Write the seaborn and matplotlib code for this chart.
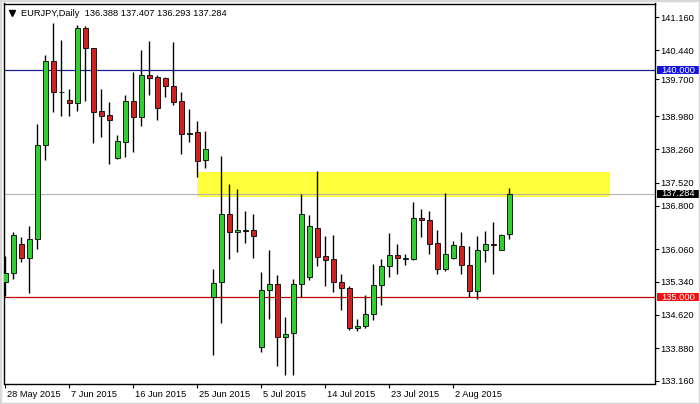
import matplotlib
matplotlib.use("Agg")
import matplotlib.pyplot as plt
import pandas as pd
import seaborn as sns
from matplotlib.patches import Rectangle
from matplotlib.transforms import ScaledTranslation

# --- datos (EURJPY diario) ---
SYMBOL = "EURJPY,Daily"

opens = [135.336, 135.543, 136.182, 135.874, 136.292, 138.341, 140.204, 139.508,
         139.338, 139.266, 140.931, 140.477, 139.096, 139.001, 138.076, 138.420,
         139.316, 138.971, 139.889, 139.838, 139.816, 139.647, 139.316, 138.583,
         138.627, 138.017, 135.006, 135.336, 136.843, 136.446, 136.475, 136.475,
         133.905, 135.169, 135.301, 134.125, 134.213, 135.301, 135.446, 136.535,
         135.902, 135.836, 135.345, 135.213, 134.323, 134.376, 134.640, 135.270,
         135.682, 135.940, 135.852, 135.852, 136.755, 136.711, 136.204, 135.631,
         135.874, 136.138, 135.720, 135.147, 136.050, 136.170, 136.050, 136.388]
highs = [135.902, 136.438, 136.327, 136.563, 138.810, 140.330, 141.041, 140.660,
         139.581, 140.990, 140.968, 140.480, 139.581, 139.301, 138.568, 139.449,
         139.962, 140.440, 140.638, 139.889, 139.838, 140.623, 139.521, 139.134,
         138.876, 138.656, 135.631, 138.105, 137.504, 137.394, 136.894, 136.827,
         135.557, 136.035, 135.484, 134.565, 135.411, 137.268, 136.805, 137.781,
         136.343, 136.365, 135.521, 135.242, 134.530, 135.043, 135.742, 135.836,
         136.416, 136.182, 135.962, 137.098, 136.953, 136.894, 136.475, 137.305,
         136.239, 136.438, 136.129, 136.343, 136.460, 136.658, 136.402, 137.407]
lows = [135.020, 135.411, 135.777, 135.094, 136.072, 138.017, 139.081, 138.986,
        138.993, 139.103, 139.323, 138.398, 138.530, 137.929, 138.054, 138.090,
        138.200, 138.766, 139.449, 138.898, 139.398, 139.228, 138.164, 138.420,
        137.649, 137.847, 133.722, 134.433, 135.852, 135.997, 136.195, 135.874,
        133.795, 134.530, 133.480, 133.281, 133.281, 135.006, 135.374, 135.682,
        135.242, 135.116, 134.713, 134.272, 134.257, 134.332, 134.493, 134.823,
        135.446, 135.506, 135.720, 135.814, 136.327, 135.946, 135.521, 135.579,
        135.852, 135.506, 135.006, 134.971, 135.777, 135.506, 136.035, 136.293]
closes = [135.535, 136.365, 135.874, 136.292, 138.341, 140.204, 139.508, 139.512,
          139.266, 140.918, 140.477, 139.081, 138.993, 138.905, 138.429, 139.316,
          138.971, 139.889, 139.830, 139.156, 139.647, 139.301, 138.583, 138.618,
          138.010, 138.253, 135.323, 136.843, 136.438, 136.490, 136.470, 136.350,
          135.169, 135.301, 134.125, 134.200, 135.301, 136.843, 136.563, 135.887,
          135.830, 135.336, 135.213, 134.323, 134.376, 134.640, 135.279, 135.682,
          135.940, 135.874, 135.855, 136.755, 136.711, 136.182, 135.631, 135.962,
          136.160, 135.720, 135.147, 136.050, 136.182, 136.160, 136.380, 137.284]

date_bars = [0, 8, 16, 24, 32, 40, 48, 56]
date_labels = ["28 May 2015", "7 Jun 2015", "16 Jun 2015", "25 Jun 2015",
               "5 Jul 2015", "14 Jul 2015", "23 Jul 2015", "2 Aug 2015"]

price_labels = ["141.160", "140.440", "139.700", "138.980", "138.260", "137.520",
                "136.800", "136.060", "135.340", "134.620", "133.880", "133.160"]

RESISTANCE = 140.000
SUPPORT = 135.000
ZONE_LOW, ZONE_HIGH = 137.208, 137.759
ZONE_FROM, ZONE_TO = 24, 75.6

# --- estilo ---
GREEN = "#32CD32"
RED = "#CC2222"
FS = 6.7

sns.set_theme(style="white")
plt.rcParams["font.family"] = ["Liberation Sans", "DejaVu Sans"]

df = pd.DataFrame({"open": opens, "high": highs, "low": lows, "close": closes})
df["bar"] = range(len(df))
up = df["close"] >= df["open"]

fig = plt.figure(figsize=(7, 4.04), dpi=100)
fig.patch.set_facecolor("white")
ax = fig.add_axes([3.5 / 700, 20.5 / 404, 651.5 / 700, 380 / 404])
ax.set_facecolor("white")

# zona amarilla
ax.add_patch(Rectangle((ZONE_FROM, ZONE_LOW), ZONE_TO - ZONE_FROM, ZONE_HIGH - ZONE_LOW,
                       fc="#FFFF3C", ec="none", zorder=1))

# lineas horizontales
ax.axhline(RESISTANCE, color="#1E1E8C", lw=0.9, zorder=2)
ax.axhline(SUPPORT, color="#C00000", lw=0.9, zorder=2)
ax.axhline(closes[-1], color="#B4B4B4", lw=0.8, zorder=2)

# velas
ax.vlines(df["bar"], df["low"], df["high"], color="black", lw=1.0, zorder=3)
d_up = df[up]
d_dn = df[~up]
ax.bar(d_up["bar"], d_up["close"] - d_up["open"], bottom=d_up["open"], width=0.55,
       color=GREEN, edgecolor="black", linewidth=0.6, zorder=4)
ax.bar(d_dn["bar"], d_dn["open"] - d_dn["close"], bottom=d_dn["close"], width=0.55,
       color=RED, edgecolor="black", linewidth=0.6, zorder=4)

ax.set_xlim(-0.225, 81.2)
ax.set_ylim(133.105, 141.464)

for s in ax.spines.values():
    s.set_color("black")
    s.set_linewidth(1.0)

# eje x
ax.set_xticks(date_bars)
ax.set_xticklabels(date_labels)
ax.tick_params(axis="x", direction="out", length=2.9, width=0.8, pad=1.8,
               labelsize=FS, colors="black", bottom=True)
offset = ScaledTranslation(0.015, 0, fig.dpi_scale_trans)
for lbl in ax.get_xticklabels():
    lbl.set_horizontalalignment("left")
    lbl.set_transform(lbl.get_transform() + offset)

# eje y (derecha); dos etiquetas se desplazan bajo las cajas de precio
nudge = {"139.700": 0.10, "136.800": 0.21}
ax.yaxis.tick_right()
ax.set_yticks([float(p) + nudge.get(p, 0) for p in price_labels])
ax.set_yticklabels(price_labels)
ax.tick_params(axis="y", direction="out", length=2.9, width=0.8, pad=1.2,
               labelsize=FS, colors="black", right=True, left=False)

# cajas de precio
ytr = ax.get_yaxis_transform()
for level, col in [(RESISTANCE, "#1414DC"), (closes[-1], "black"), (SUPPORT, "#F01010")]:
    ax.add_patch(Rectangle((1.0031, level - 0.088), 0.0645, 0.176, transform=ytr,
                           clip_on=False, fc=col, ec="none", zorder=5))
    ax.text(1.0103, level, f"{level:.3f}", transform=ytr, color="white", fontsize=FS,
            va="center", ha="left", clip_on=False, zorder=6)

# titulo
ax.plot([0.013], [0.975], marker="v", color="black", markersize=4, transform=ax.transAxes,
        clip_on=False)
title = f"{SYMBOL}  {opens[-1]:.3f} {highs[-1]:.3f} {lows[-1]:.3f} {closes[-1]:.3f}"
ax.text(0.0264, 0.974, title, transform=ax.transAxes, fontsize=FS, va="center",
        ha="left", color="black")

fig.patches.append(Rectangle((0, 0), 1, 1, transform=fig.transFigure, fill=False,
                             ec="#D8D8D8", lw=2.5))

fig.savefig("out.png", dpi=100, facecolor="white")
